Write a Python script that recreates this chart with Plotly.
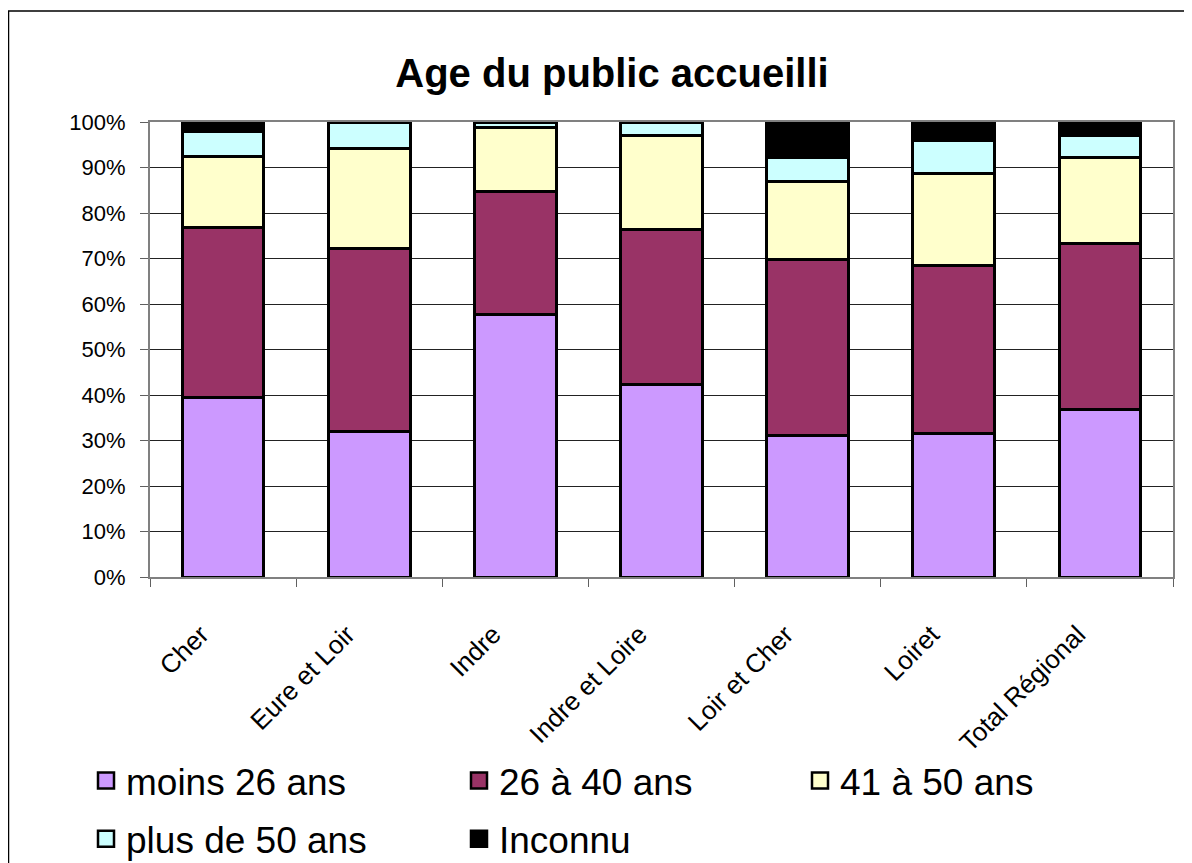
import plotly.graph_objects as go

categories = ["Cher", "Eure et Loir", "Indre", "Indre et Loire", "Loir et Cher", "Loiret", "Total Régional"]
moins_26 = [39.5, 31.9, 57.7, 42.4, 31.1, 31.6, 36.9]
de_26_a_40 = [37.4, 40.3, 27.0, 34.0, 38.6, 36.8, 36.3]
de_41_a_50 = [15.5, 21.9, 14.0, 20.6, 17.3, 20.3, 19.0]
plus_50 = [5.5, 5.9, 1.3, 3.0, 5.2, 7.2, 4.9]
inconnu = [2.1, 0, 0, 0, 7.8, 4.1, 2.9]
y_ticks = [0, 10, 20, 30, 40, 50, 60, 70, 80, 90, 100]
y_tick_labels = [f"{v}%" for v in y_ticks]

series = [
    ("moins 26 ans", moins_26, "#CC99FF", "legend"),
    ("26 à 40 ans", de_26_a_40, "#993366", "legend2"),
    ("41 à 50 ans", de_41_a_50, "#FFFFCC", "legend3"),
    ("plus de 50 ans", plus_50, "#CCFFFF", "legend"),
    ("Inconnu", inconnu, "#000000", "legend2"),
]

FONT = "Liberation Sans, Arial, sans-serif"

fig = go.Figure()
for name, vals, color, lg in series:
    fig.add_trace(go.Bar(
        x=categories, y=vals, name=name, showlegend=False,
        marker=dict(color=color, line=dict(color="black", width=3)),
    ))
# legend entries (square swatches)
for name, vals, color, lg in series:
    fig.add_trace(go.Scatter(
        x=[None], y=[None], name=name, legend=lg, legendgroup=name,
        mode="markers",
        marker=dict(symbol="square", size=16, color=color, line=dict(color="black", width=2.5)),
    ))

W, H = 1184, 855
L, R, T, B = 142, 19, 114, 286
pw = W - L - R
ph = H - T - B

def px_x(p):
    return (p - L) / pw

def px_y(p):
    return (H - B - p) / ph

leg_common = dict(xanchor="left", yanchor="top", orientation="v",
                  traceorder="grouped", tracegroupgap=7,
                  font=dict(size=37, family=FONT, color="black"),
                  bgcolor="rgba(0,0,0,0)")

fig.update_layout(
    width=W, height=H,
    margin=dict(l=L, r=R, t=T, b=B, autoexpand=False),
    barmode="stack", bargap=0.44,
    paper_bgcolor="white", plot_bgcolor="white",
    font=dict(family=FONT, color="black"),
    title=dict(text="<b>Age du public accueilli</b>", x=604 / W, xanchor="center",
               y=1 - 65 / H, yanchor="middle", yref="container",
               font=dict(size=40, family=FONT, color="black")),
    xaxis=dict(
        showline=True, linecolor="#808080", linewidth=2, mirror=True,
        ticks="outside", ticklen=8, tickcolor="#606060", tickson="boundaries",
        tickangle=-45, tickfont=dict(size=26, family=FONT, color="black"),
        ticklabelshift=-22, ticklabelstandoff=30,
        showgrid=False, automargin=False,
    ),
    yaxis=dict(
        range=[0, 100], tickmode="array", tickvals=y_ticks, ticktext=y_tick_labels,
        showline=True, linecolor="#808080", linewidth=2, mirror=True,
        ticks="outside", ticklen=8, tickcolor="#606060",
        tickfont=dict(size=22, family=FONT, color="black"),
        ticklabelstandoff=10,
        showgrid=True, gridcolor="#222222", gridwidth=1,
        zeroline=False, automargin=False,
    ),
    legend=dict(x=px_x(78), y=px_y(742), **leg_common),
    legend2=dict(x=px_x(451), y=px_y(742), **leg_common),
    legend3=dict(x=px_x(792), y=px_y(742), **leg_common),
    shapes=[dict(type="rect", xref="paper", yref="paper",
                 x0=px_x(0.5), x1=px_x(1300), y0=px_y(1000), y1=px_y(3),
                 line=dict(color="black", width=1.5), fillcolor="rgba(0,0,0,0)", layer="below")],
)

fig.write_html("out.html")
